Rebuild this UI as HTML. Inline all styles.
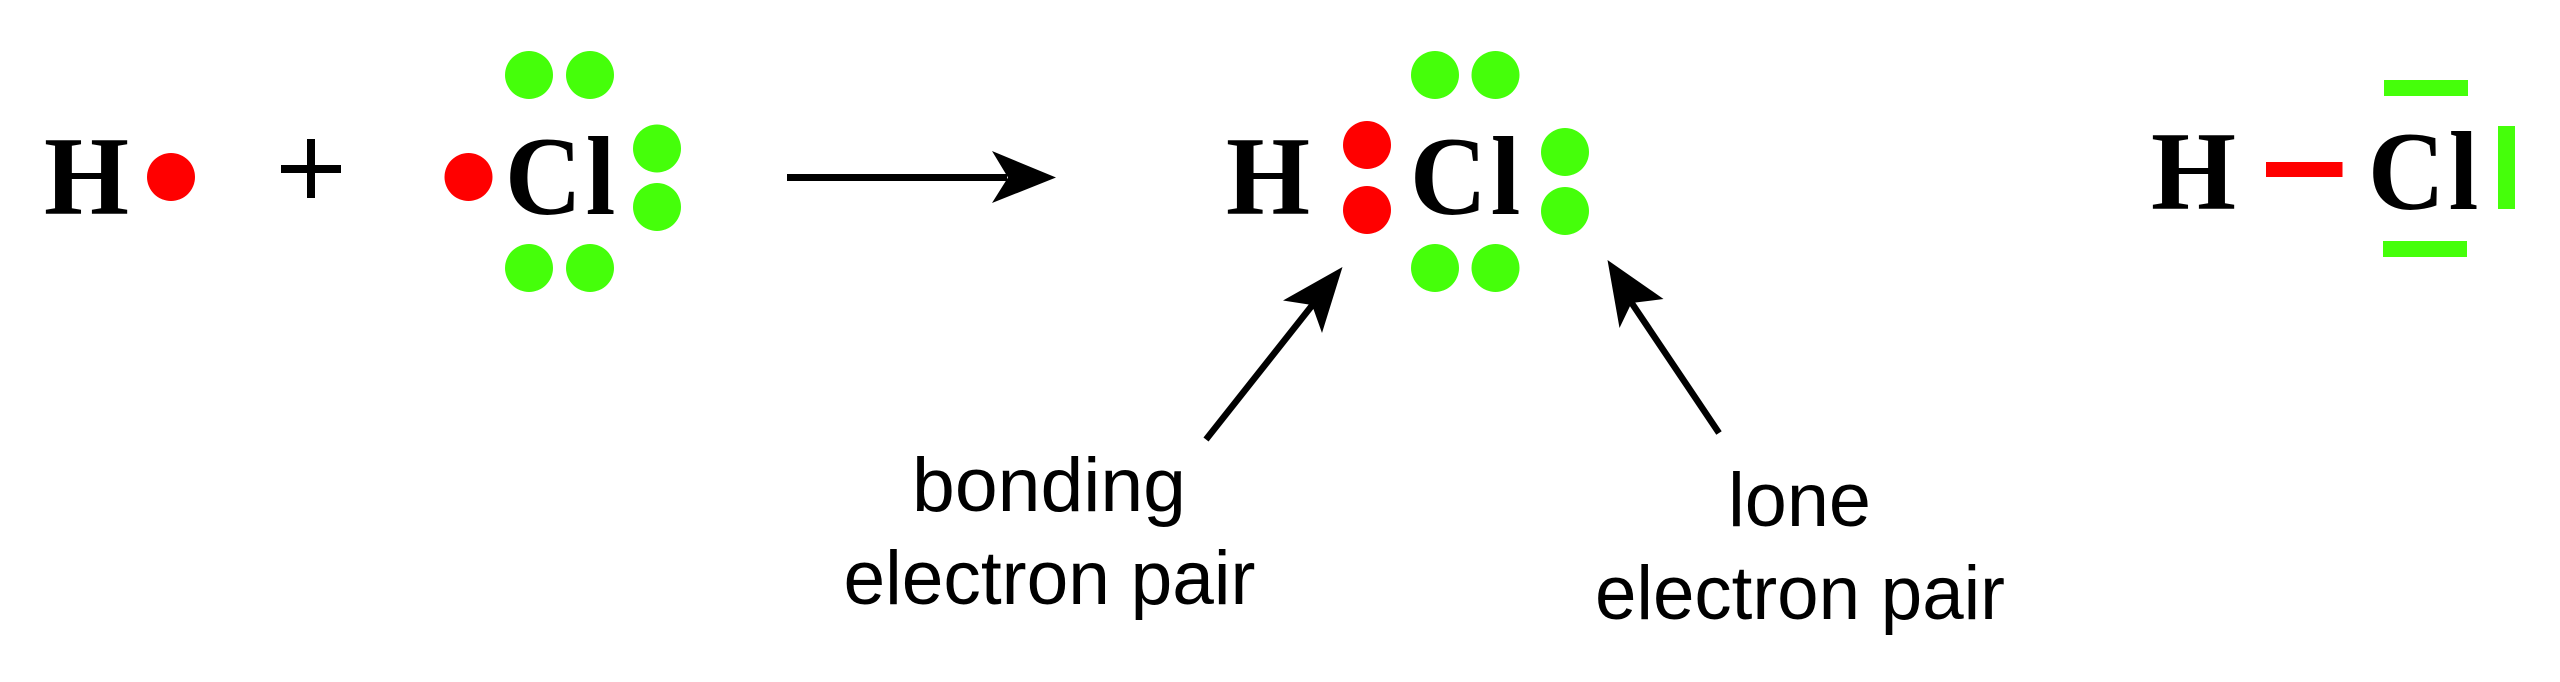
<!DOCTYPE html>
<html><head><meta charset="utf-8"><style>
html,body{margin:0;padding:0;background:#fff;width:2560px;height:682px;overflow:hidden}
svg{display:block}
.f{font-family:"Liberation Serif",serif;font-weight:bold;font-size:112px;fill:#000}
.s{font-family:"Liberation Sans",sans-serif;font-size:76px;fill:#000}
</style></head><body>
<svg width="2560" height="682" viewBox="0 0 2560 682" xmlns="http://www.w3.org/2000/svg">
<rect width="2560" height="682" fill="#fff"/>
<!-- Left: H + Cl -->
<text class="f" x="44" y="214" textLength="85" lengthAdjust="spacingAndGlyphs">H</text>
<circle cx="171" cy="177" r="24" fill="#ff0000"/>
<rect x="281" y="165" width="60" height="8"/>
<rect x="307" y="139" width="8" height="59"/>
<circle cx="468.500" cy="177" r="24" fill="#ff0000"/>
<text class="f" transform="translate(505,214) scale(.95,1)" x="0 85" y="0">Cl</text>
<g fill="#45ff0a">
<circle cx="529" cy="75" r="24"/><circle cx="590" cy="75" r="24"/>
<circle cx="657" cy="148.500" r="24"/><circle cx="657" cy="207" r="24"/>
<circle cx="529" cy="268" r="24"/><circle cx="590" cy="268" r="24"/>
</g>
<!-- Reaction arrow -->
<rect x="787" y="174" width="220" height="7"/>
<polygon points="1056,177.500 992,151 1008,177.500 992,203"/>
<!-- Middle: HCl -->
<text class="f" x="1226" y="214" textLength="84" lengthAdjust="spacingAndGlyphs">H</text>
<circle cx="1367" cy="145" r="24" fill="#ff0000"/>
<circle cx="1367" cy="210" r="24" fill="#ff0000"/>
<text class="f" transform="translate(1410,214) scale(.95,1)" x="0 85" y="0">Cl</text>
<g fill="#45ff0a">
<circle cx="1435" cy="75" r="24"/><circle cx="1495.500" cy="75" r="24"/>
<circle cx="1565" cy="152" r="24"/><circle cx="1565" cy="211" r="24"/>
<circle cx="1435" cy="268" r="24"/><circle cx="1495.500" cy="268" r="24"/>
</g>
<!-- Pointer arrows -->
<line x1="1206" y1="439.500" x2="1314" y2="303" stroke="#000" stroke-width="6.500"/>
<polygon points="1342.500,267 1283,300.500 1312,305 1322,333"/>
<line x1="1719" y1="433" x2="1631" y2="302" stroke="#000" stroke-width="6.500"/>
<polygon points="1607.500,260 1619.500,328 1631.500,303 1663.500,299"/>
<!-- Labels -->
<text class="s" x="912" y="511" textLength="274" lengthAdjust="spacingAndGlyphs">bonding</text>
<text class="s" x="843.500" y="604" textLength="412" lengthAdjust="spacingAndGlyphs">electron pair</text>
<text class="s" x="1728" y="526" textLength="143" lengthAdjust="spacingAndGlyphs">lone</text>
<text class="s" x="1595" y="619" textLength="410" lengthAdjust="spacingAndGlyphs">electron pair</text>
<!-- Right: structural -->
<text class="f" x="2151" y="209" textLength="85" lengthAdjust="spacingAndGlyphs">H</text>
<rect x="2266" y="162" width="76.500" height="15" fill="#ff0000"/>
<text class="f" transform="translate(2368,209) scale(.95,1)" x="0 85" y="0">Cl</text>
<g fill="#45ff0a">
<rect x="2384" y="80" width="84" height="16"/>
<rect x="2383" y="241" width="84" height="16"/>
<rect x="2498" y="126" width="17" height="83"/>
</g>
</svg>
</body></html>
